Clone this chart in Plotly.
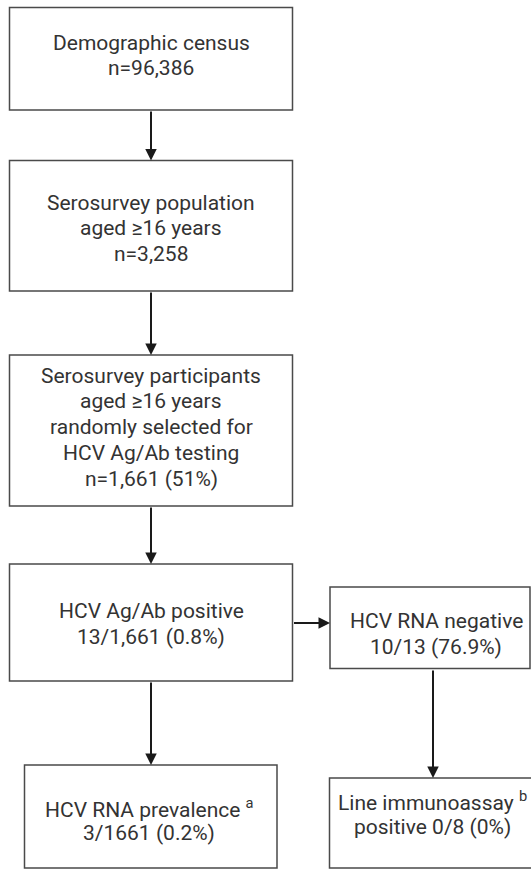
import plotly.graph_objects as go

# Flowchart content (one list of text lines per box)
box_lines = [
    ["Demographic census", "n=96,386"],
    ["Serosurvey population", "aged ≥16 years", "n=3,258"],
    ["Serosurvey participants", "aged ≥16 years", "randomly selected for",
     "HCV Ag/Ab testing", "n=1,661 (51%)"],
    ["HCV Ag/Ab positive", "13/1,661 (0.8%)"],
    ["HCV RNA negative", "10/13 (76.9%)"],
    ["HCV RNA prevalence <sup>a</sup>", "3/1661 (0.2%)"],
    ["Line immunoassay <sup>b</sup>", "positive 0/8 (0%)"],
]

# layout geometry (pixels): x0, y0, x1, y1
boxes = [
    (9.5, 7.5, 292.5, 110),
    (9.5, 160.5, 292.5, 291),
    (9.5, 355, 292.5, 506),
    (9.5, 564, 292.5, 681),
    (330, 587, 530, 668.5),
    (24.5, 765, 277, 868),
    (329.5, 778, 534, 868),
]
# text centre x and y of first line, line spacing
text_pos = [
    (151, 42.5), (151, 202.5), (151, 375.5), (151, 611),
    (436, 621), (149, 807.5), (432, 801),
]
LINE_GAP = 25.8

# arrows: (tail x, tail y, head x, head y)
arrows = [
    (151, 110, 151, 160.5),
    (151, 291, 151, 355),
    (151, 506, 151, 564),
    (292.5, 623, 330, 623),
    (151, 681, 151, 765),
    (433, 669, 433, 778),
]

fig = go.Figure()
for (x0, y0, x1, y1) in boxes:
    fig.add_shape(type="rect", x0=x0, y0=y0, x1=x1, y1=y1,
                  line=dict(color="#4a4a4a", width=1.5), fillcolor="white")

for (ax, ay, x, y) in arrows:
    fig.add_annotation(x=x, y=y, ax=ax, ay=ay, xref="x", yref="y",
                       axref="x", ayref="y", text="", showarrow=True,
                       arrowhead=2, arrowsize=1.15, arrowwidth=2,
                       arrowcolor="#1a1a1a", standoff=0, startstandoff=0)

for lines, (tx, ty) in zip(box_lines, text_pos):
    for i, line in enumerate(lines):
        fig.add_annotation(x=tx, y=ty + i * LINE_GAP, xref="x", yref="y",
                           text=line, showarrow=False, align="center",
                           xanchor="center", yanchor="middle",
                           font=dict(family="Roboto", size=21, color="#333333"))

fig.update_xaxes(range=[0, 531], visible=False, fixedrange=True)
fig.update_yaxes(range=[870, 0], visible=False, fixedrange=True)
fig.update_layout(width=531, height=870, margin=dict(l=0, r=0, t=0, b=0),
                  plot_bgcolor="white", paper_bgcolor="white", showlegend=False)

fig.write_html("out.html", config={"displayModeBar": False},
               post_script="document.body.style.margin='0';document.body.style.overflow='hidden';")
